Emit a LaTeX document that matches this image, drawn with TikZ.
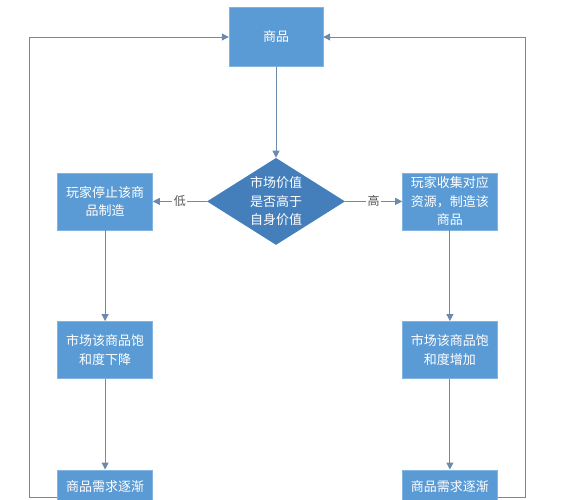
\documentclass[tikz,border=0pt]{standalone}
\usepackage{xcolor}
\usepackage{fontspec}
\newfontfamily\cjk{Noto Sans CJK SC}
\usepackage{tikz}
\usetikzlibrary{arrows.meta,positioning,shapes.geometric}
\definecolor{boxblue}{RGB}{91,155,213}
\definecolor{boxedge}{RGB}{130,180,225}
\definecolor{diablue}{RGB}{68,127,188}
\definecolor{linegray}{RGB}{108,138,170}
\definecolor{taggray}{RGB}{85,85,85}

\begin{document}
\begin{tikzpicture}[
  x=1pt,y=1pt,
  node distance=91pt and 55pt,
  box/.style={rectangle,draw=boxedge,fill=boxblue,text=white,minimum width=95pt,minimum height=57pt,inner sep=2pt,align=center,font=\cjk\fontsize{13}{18.5}\selectfont},
  goodsbox/.style={box,minimum width=94pt,minimum height=59pt},
  tailbox/.style={box,text height=20pt,text depth=45pt},
  judge/.style={diamond,fill=diablue,text=white,minimum width=138pt,minimum height=87pt,inner sep=-9pt,align=center,font=\cjk\fontsize{13}{18.5}\selectfont},
  line/.style={-{Triangle[length=7pt,width=7pt]},line width=1pt,draw=linegray},
  tag/.style={fill=white,text=taggray,inner sep=1.5pt,font=\cjk\fontsize{12}{12}\selectfont}
]
  \useasboundingbox (0,0) rectangle (562,-499);
  \clip (0,0) rectangle (562,-499);

  \node[goodsbox] (goods) at (276,-37) {商品};
  \node[judge,below=91pt of goods] (value) {市场价值\\是否高于\\自身价值};
  \node[box,left=54pt of value] (stop) {玩家停止该商\\品制造};
  \node[box,right=57pt of value] (make) {玩家收集对应\\资源，制造该\\商品};
  \node[box,below=of stop] (satdown) {市场该商品饱\\和度下降};
  \node[box,below=of make] (satup) {市场该商品饱\\和度增加};
  \node[tailbox,below=of satdown] (demup) {商品需求逐渐};
  \node[tailbox,below=of satup] (demdown) {商品需求逐渐};

  \draw[line] (goods) -- (value);
  \draw[line] (value.west) -- node[tag] {低} (stop.east);
  \draw[line] (value.east) -- node[tag] {高} (make.west);
  \draw[line] (stop) -- (satdown);
  \draw[line] (satdown) -- (demup);
  \draw[line] (make) -- (satup);
  \draw[line] (satup) -- (demdown);
  \draw[line] (demup.west|-0,-497) -- ++(-28,0) |- (goods.west);
  \draw[line] (demdown.east|-0,-497) -- ++(28,0) |- (goods.east);
\end{tikzpicture}
\end{document}
